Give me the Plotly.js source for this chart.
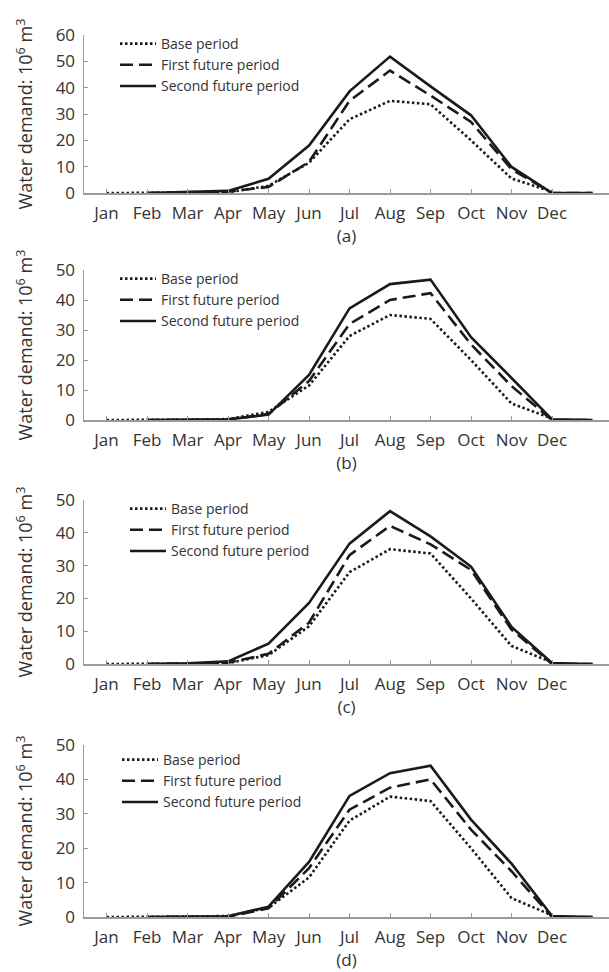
<!DOCTYPE html>
<html>
<head>
<meta charset="utf-8">
<script src="https://cdn.plot.ly/plotly-3.0.1.min.js"></script>
<style>
html,body{margin:0;padding:0;background:#fff;}
#chart{width:609px;height:972px;}
</style>
</head>
<body>
<div id="chart"></div>
<script>
// ---- data ----
const months = ['Jan','Feb','Mar','Apr','May','Jun','Jul','Aug','Sep','Oct','Nov','Dec'];
const slots = months.concat(['']);           // 13 plotted positions, last one unlabeled
const seriesNames = ['Base period','First future period','Second future period'];
const panelLabels = ['(a)','(b)','(c)','(d)'];
const yMax = [60, 50, 50, 50];

const basePeriod = [0, 0, 0.1, 0.3, 2.7, 11.5, 28, 35, 33.7, 20, 5.5, 0.5, null];

const firstA  = [null, 0, 0.2, 0.5, 2.3, 11.8, 35, 46.5, 37, 27, 9, 0, 0];
const secondA = [null, 0, 0.3, 0.8, 5.4, 18, 38.6, 51.8, 40.5, 29.5, 9.9, 0, 0];

const firstB  = [null, 0, 0, 0.1, 2, 13, 32, 40, 42.3, 25.2, 11.3, 0, 0];
const secondB = [null, 0, 0, 0.2, 1.8, 15, 37.2, 45.3, 46.8, 27.6, 14, 0.2, 0];

const firstC  = [null, 0, 0.1, 0.4, 3.1, 12.6, 33.2, 42.1, 36.5, 28.7, 10.5, 0, 0];
const secondC = [null, 0, 0.2, 0.8, 6.2, 18.6, 36.7, 46.6, 38.9, 29.7, 11.3, 0.3, 0];

const firstD  = [null, 0, 0, 0.1, 2.5, 14.2, 31.2, 37.6, 40, 25.4, 13.3, 0, 0];
const secondD = [null, 0, 0.1, 0.2, 3, 16, 35.2, 41.8, 44, 28.3, 15.5, 0.3, 0];

const panels = [
  [basePeriod, firstA, secondA],
  [basePeriod, firstB, secondB],
  [basePeriod, firstC, secondC],
  [basePeriod, firstD, secondD]
];

// ---- styling / layout ----
const W = 609, H = 972;
const xPos = slots.map((s, i) => i + 1);
const styles = [
  {color:'#1a1a1a', width:2.6, dash:'2.5px,2.5px'},
  {color:'#1a1a1a', width:2.6, dash:'13px,6px'},
  {color:'#1a1a1a', width:2.6, dash:'solid'}
];
// plot area pixel boxes [top, bottom]
const boxes = [[35,193],[270,420],[500,664],[745,917]];
const legendPos = [[115,28],[115,263],[125,493],[117,744]];
const fontFam = '"Open Sans", "Noto Sans", sans-serif';
const axisGrey = '#9a9a9a';

const traces = [];
const layout = {
  width: W, height: H,
  margin:{l:0,r:0,t:0,b:0},
  paper_bgcolor:'#fff', plot_bgcolor:'#fff',
  font:{family:fontFam, color:'#333', size:17},
  showlegend:true
};

panels.forEach((series, p) => {
  const sfx = p === 0 ? '' : String(p + 1);
  const legName = 'legend' + sfx;
  series.forEach((vals, k) => {
    traces.push({
      type:'scatter', mode:'lines',
      x: xPos, y: vals,
      name: seriesNames[k],
      line: styles[k],
      connectgaps:false,
      xaxis:'x' + sfx, yaxis:'y' + sfx,
      legend: legName,
      hoverinfo:'skip'
    });
  });
  const [top, bot] = boxes[p];
  layout['xaxis' + sfx] = {
    domain:[84/W, 1],
    anchor:'y' + sfx,
    range:[0.444, 13.407],
    tickmode:'array',
    tickvals: months.map((m,i)=>i+1),
    ticktext: months,
    ticks:'inside', ticklen:4, tickwidth:1, tickcolor:axisGrey,
    showline:true, linecolor:axisGrey, linewidth:1.5,
    showgrid:false, zeroline:false,
    tickfont:{size:17, color:'#333', family:fontFam},
    ticklabelstandoff:4,
    automargin:false,
    fixedrange:true,
    title:{text:panelLabels[p], font:{size:17, color:'#333', family:fontFam}, standoff:2}
  };
  layout['yaxis' + sfx] = {
    domain:[1 - bot/H, 1 - top/H],
    anchor:'x' + sfx,
    range:[0, yMax[p]],
    dtick:10, tick0:0,
    ticks:'inside', ticklen:4, tickwidth:1, tickcolor:axisGrey,
    showline:true, linecolor:axisGrey, linewidth:1.5,
    showgrid:false, zeroline:false,
    tickfont:{size:17, color:'#333', family:fontFam},
    ticklabelstandoff:4,
    automargin:false,
    fixedrange:true,
    title:{text:'Water demand: 10<sup>6</sup> m<sup>3</sup>', font:{size:18, color:'#333', family:fontFam}, standoff:18}
  };
  layout[legName] = {
    x: legendPos[p][0]/W, y: 1 - legendPos[p][1]/H,
    xanchor:'left', yanchor:'top',
    bgcolor:'rgba(0,0,0,0)', borderwidth:0,
    font:{size:14, color:'#333', family:fontFam},
    itemwidth:36,
    traceorder:'normal',
    itemclick:false, itemdoubleclick:false
  };
});

Plotly.newPlot('chart', traces, layout, {staticPlot:true, displayModeBar:false});
</script>
</body>
</html>
